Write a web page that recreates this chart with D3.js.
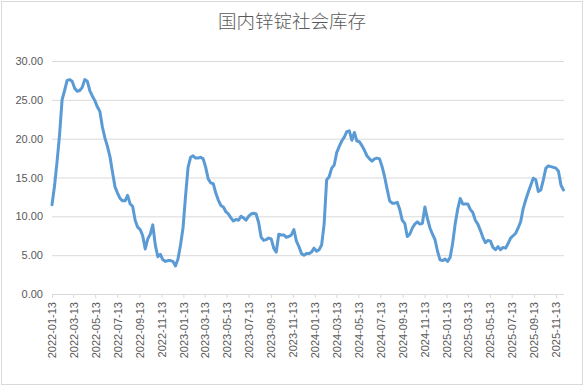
<!DOCTYPE html>
<html>
<head>
<meta charset="utf-8">
<script src="https://cdn.jsdelivr.net/npm/d3@7"></script>
<style>
	html, body { margin: 0; padding: 0; background: #fff; }
	svg { display: block; }
</style>
</head>
<body>
<div id="chart"></div>
<script>

// weekly readings (Thursdays), first week 2022-01-13
const startDate = "2022-01-13";
const values = [
	11.5, 13.9, 17.0, 20.5, 25.0, 26.2, 27.5, 27.6, 27.4, 26.5,
	26.1, 26.2, 26.6, 27.6, 27.4, 26.2, 25.5, 24.9, 24.1, 23.5,
	21.5, 20.1, 19.0, 17.7, 15.7, 13.8, 13.0, 12.3, 12.0, 12.0,
	12.7, 11.6, 11.3, 9.5, 8.6, 8.3, 7.5, 5.8, 7.1, 7.7,
	8.9, 6.3, 4.8, 5.1, 4.4, 4.2, 4.3, 4.3, 4.2, 3.6,
	4.5, 6.3, 8.5, 12.6, 16.3, 17.6, 17.8, 17.5, 17.5, 17.6,
	17.4, 16.3, 14.8, 14.3, 14.2, 13.0, 12.1, 11.4, 11.2, 10.6,
	10.3, 9.8, 9.4, 9.6, 9.5, 10.0, 9.8, 9.5, 10.0, 10.3,
	10.4, 10.3, 9.2, 7.3, 6.9, 7.0, 7.2, 7.1, 5.9, 5.4,
	7.7, 7.6, 7.6, 7.3, 7.4, 7.6, 8.3, 6.8, 6.1, 5.2,
	5.0, 5.2, 5.2, 5.4, 5.9, 5.5, 5.7, 6.3, 9.0, 14.7,
	15.1, 16.2, 16.6, 18.2, 19.0, 19.7, 20.2, 20.9, 21.0, 19.8,
	20.8, 19.7, 19.6, 19.1, 18.5, 17.8, 17.4, 17.1, 17.4, 17.5,
	17.4, 16.4, 15.1, 13.5, 12.0, 11.7, 11.7, 11.8, 10.9, 9.5,
	9.1, 7.4, 7.7, 8.5, 9.0, 9.3, 9.0, 9.1, 11.2, 9.7,
	8.5, 7.7, 7.0, 5.5, 4.4, 4.3, 4.5, 4.2, 4.7, 6.5,
	9.0, 10.9, 12.3, 11.6, 11.6, 11.6, 10.9, 10.5, 9.5, 9.0,
	8.2, 7.3, 6.6, 6.9, 6.8, 6.0, 5.7, 6.1, 5.7, 6.0,
	5.9, 6.5, 7.2, 7.5, 7.8, 8.5, 9.3, 11.0, 12.1, 13.1,
	14.0, 14.9, 14.7, 13.2, 13.4, 14.7, 16.2, 16.5, 16.4, 16.3,
	16.2, 15.8, 14.0, 13.4
];

const xTickLabels = [
	"2022-01-13", "2022-03-13", "2022-05-13", "2022-07-13", "2022-09-13", "2022-11-13",
	"2023-01-13", "2023-03-13", "2023-05-13", "2023-07-13", "2023-09-13", "2023-11-13",
	"2024-01-13", "2024-03-13", "2024-05-13", "2024-07-13", "2024-09-13", "2024-11-13",
	"2025-01-13", "2025-03-13", "2025-05-13", "2025-07-13", "2025-09-13", "2025-11-13"
];
const yTicks = [ 0, 5, 10, 15, 20, 25, 30 ];
const title = "国内锌锭社会库存";

///////////////////////////////////////////////////////////////////////

const width = 585, height = 386;
const plot = { left: 52, right: 563.5, top: 61, bottom: 294 };
const parse = d3.timeParse( "%Y-%m-%d" );

const start = parse( startDate );
const data = values.map( ( v, i ) => ({ date: d3.timeDay.offset( start, 7 * i ), value: v }) );

const svg = d3.select( "#chart" )
	.append( "svg" )
		.attr( "width", width )
		.attr( "height", height );

svg.append( "rect" )
	.attr( "x", 1.5 ).attr( "y", 1.5 )
	.attr( "width", 581 ).attr( "height", 383 )
	.attr( "fill", "#fff" )
	.attr( "stroke", "#d9d9d9" );

const x = d3.scaleTime()
	.domain( [ start, data[ data.length - 1 ].date ] )
	.range( [ plot.left, plot.right ] );

const y = d3.scaleLinear()
	.domain( [ 0, 30 ] )
	.range( [ plot.bottom, plot.top ] );

// title
svg.append( "text" )
	.attr( "x", 292 )
	.attr( "y", 28 )
	.attr( "text-anchor", "middle" )
	.attr( "fill", "#595959" )
	.style( "font-family", "'Noto Sans CJK SC', sans-serif" )
	.style( "font-weight", 300 )
	.style( "font-size", "18.5px" )
	.text( title );

// y axis + grid
const yAxis = svg.append( "g" )
	.attr( "transform", `translate(${ plot.left },0)` )
	.call( d3.axisLeft( y )
		.tickValues( yTicks )
		.tickFormat( d => d.toFixed( 2 ) )
		.tickSize( -( 564 - plot.left ) )
		.tickPadding( 9 ) );
yAxis.select( ".domain" ).remove();
yAxis.selectAll( ".tick line" )
	.attr( "stroke", "#d9d9d9" )
	.filter( d => d === 0 ).remove();
yAxis.selectAll( "text" )
	.attr( "fill", "#595959" )
	.style( "font-family", "'Liberation Sans', Arial, sans-serif" )
	.style( "font-size", "11px" );

// x axis
const xAxis = svg.append( "g" )
	.attr( "transform", `translate(0,${ plot.bottom })` )
	.call( d3.axisBottom( x )
		.tickValues( xTickLabels.map( parse ) )
		.tickFormat( d3.timeFormat( "%Y-%m-%d" ) )
		.tickSizeInner( 4 )
		.tickSizeOuter( 0 ) );
xAxis.select( ".domain" )
	.attr( "stroke", "#d9d9d9" )
	.attr( "d", `M${ plot.left },0.5H564` );
xAxis.selectAll( ".tick line" ).attr( "stroke", "#d9d9d9" );
xAxis.selectAll( "text" )
	.attr( "fill", "#595959" )
	.style( "font-family", "'Liberation Sans', Arial, sans-serif" )
	.style( "font-size", "11px" )
	.attr( "transform", "rotate(-90)" )
	.attr( "text-anchor", "end" )
	.attr( "x", -8 )
	.attr( "y", 0 )
	.attr( "dy", "0.35em" );

// series
svg.append( "path" )
	.datum( data )
	.attr( "fill", "none" )
	.attr( "stroke", "#5b9bd5" )
	.attr( "stroke-width", 3 )
	.attr( "stroke-linejoin", "round" )
	.attr( "stroke-linecap", "round" )
	.attr( "d", d3.line()
		.x( d => x( d.date ) )
		.y( d => y( d.value ) ) );

</script>
</body>
</html>
